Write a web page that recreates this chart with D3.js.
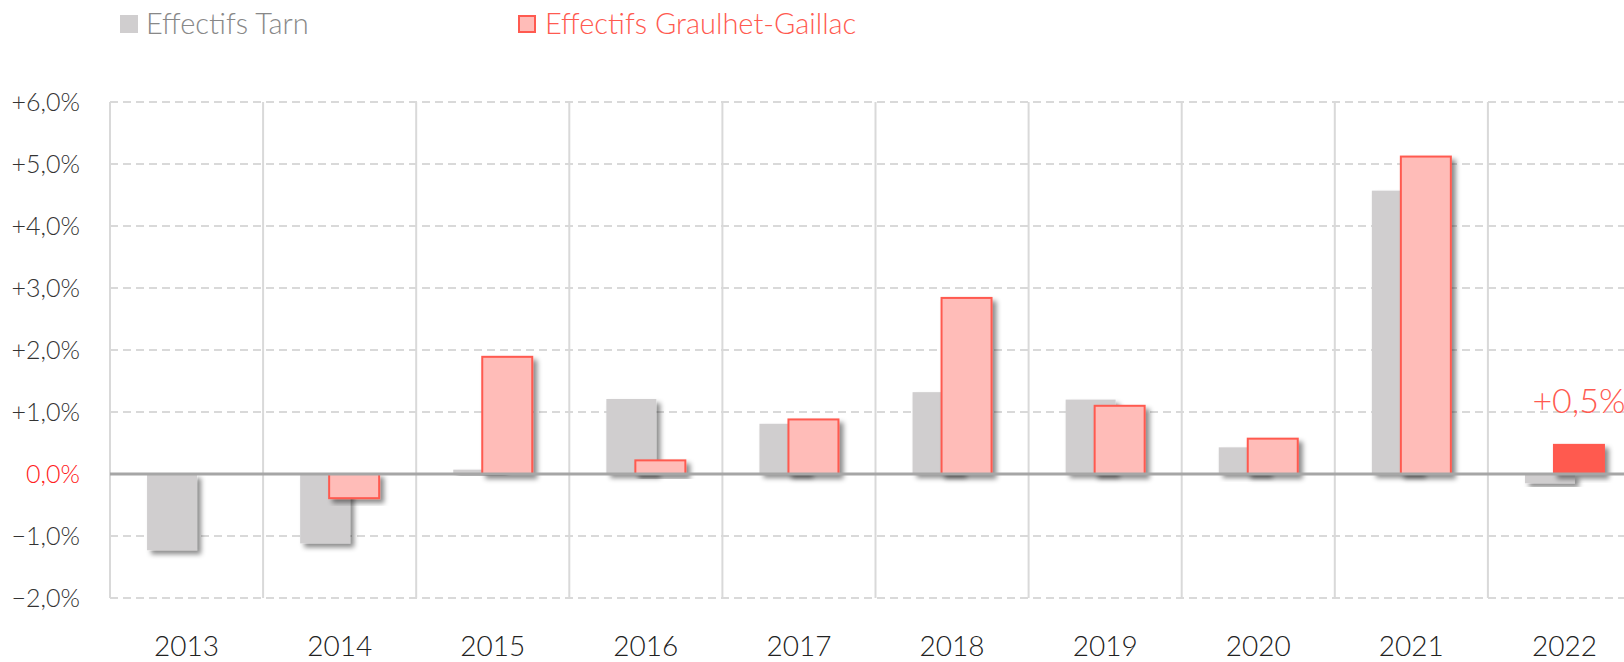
<!DOCTYPE html>
<html>
<head>
<meta charset="utf-8">
<script src="https://cdn.jsdelivr.net/npm/d3@7"></script>
<style>
  html, body { margin: 0; padding: 0; background: #fff; }
  svg { display: block; font-family: Lato, "Open Sans", sans-serif; font-weight: 300; }
</style>
</head>
<body>
<div id="canvas"></div>
<script>
// data
var years = ['2013','2014','2015','2016','2017','2018','2019','2020','2021','2022'];
var tarn = [-1.23, -1.12, 0.07, 1.21, 0.81, 1.32, 1.20, 0.43, 4.57, -0.15];
var graulhet = [0.0, -0.39, 1.89, 0.22, 0.88, 2.84, 1.10, 0.57, 5.12, 0.47];
var yTicks = [-2, -1, 0, 1, 2, 3, 4, 5, 6];
var seriesNames = ['Effectifs Tarn', 'Effectifs Graulhet-Gaillac'];
var highlightLabel = '+0,5%';

var W = 1624, H = 662;
var m = {t:102, l:110, b:64};

var svg = d3.select('#canvas').append('svg')
    .attr('width', W).attr('height', H);

var defs = svg.append('defs');
var f = defs.append('filter').attr('id','shadow')
    .attr('x','-20%').attr('y','-20%').attr('width','150%').attr('height','150%');
f.append('feDropShadow')
    .attr('dx',4).attr('dy',4).attr('stdDeviation',2.5)
    .attr('flood-color','#000').attr('flood-opacity',0.45);

var x = d3.scaleBand().domain(years).range([m.l, m.l + 153.1*years.length]);
var y = d3.scaleLinear().domain([-2, 6]).range([598, 102]);

var plotRight = x.range()[1];

//grid
svg.append('g').selectAll('line.h')
    .data(yTicks.filter(function(d){return d !== 0;}))
    .enter().append('line')
    .attr('x1', m.l).attr('x2', plotRight)
    .attr('y1', function(d){return y(d);}).attr('y2', function(d){return y(d);})
    .style('stroke','#d9d9d9').style('stroke-width',2).style('stroke-dasharray','8,5');

svg.append('g').selectAll('line.v')
    .data(years)
    .enter().append('line')
    .attr('x1', function(d){return x(d);}).attr('x2', function(d){return x(d);})
    .attr('y1', y(6)).attr('y2', y(-2))
    .style('stroke','#d9d9d9').style('stroke-width',2);

//y labels
svg.append('g').selectAll('text')
    .data(yTicks)
    .enter().append('text')
    .attr('x', 80).attr('y', function(d){return y(d);})
    .attr('dy','0.35em')
    .attr('text-anchor','end')
    .style('font-size','25px')
    .style('fill', function(d){return d === 0 ? '#ff2020' : '#333';})
    .text(function(d){return (d > 0 ? '+' : '') + d3.format('.1f')(d).replace('.', ',') + '%';});

//x labels
svg.append('g').selectAll('text')
    .data(years)
    .enter().append('text')
    .attr('x', function(d){return x(d) + x.bandwidth()/2;})
    .attr('y', 646).attr('dy','0.35em')
    .attr('text-anchor','middle')
    .style('font-size','28px').style('fill','#222')
    .text(function(d){return d;});

//bars
var barW = 50, off = 14.5;
function barY(v){ return Math.min(y(v), y(0)); }
function barH(v){ return Math.abs(y(v) - y(0)); }

svg.append('g').selectAll('rect')
    .data(years)
    .enter().append('rect')
    .attr('x', function(d){return x(d) + x.bandwidth()/2 - off - barW/2;})
    .attr('y', function(d,i){return barY(tarn[i]);})
    .attr('width', barW)
    .attr('height', function(d,i){return barH(tarn[i]);})
    .style('fill','#d0cecf')
    .attr('filter','url(#shadow)');

svg.append('g').selectAll('rect')
    .data(years)
    .enter().append('rect')
    .attr('x', function(d){return x(d) + x.bandwidth()/2 + off - barW/2;})
    .attr('y', function(d,i){return barY(graulhet[i]);})
    .attr('width', barW)
    .attr('height', function(d,i){return Math.max(barH(graulhet[i]), 0.5);})
    .style('fill', function(d,i){return i === years.length-1 ? '#ff5a50' : '#ffbcb8';})
    .style('stroke', function(d,i){return graulhet[i] === 0 ? 'none' : '#ff5a50';})
    .style('stroke-width',2)
    .attr('filter','url(#shadow)');

//zero line
svg.append('line')
    .attr('x1', m.l).attr('x2', plotRight)
    .attr('y1', y(0)).attr('y2', y(0))
    .style('stroke','#a6a6a6').style('stroke-width',3);

//highlight label
var last = years[years.length-1];
svg.append('text')
    .attr('x', x(last) + x.bandwidth()/2 + off)
    .attr('y', 413)
    .attr('text-anchor','middle')
    .style('font-size','34px').style('fill','#ff5a50')
    .text(highlightLabel);

//legend
var leg = svg.append('g');
leg.append('rect').attr('x',120).attr('y',15).attr('width',18).attr('height',18)
    .style('fill','#d0cecf');
leg.append('text').attr('x',146).attr('y',24).attr('dy','0.35em')
    .style('font-size','29px').style('fill','#888')
    .text(seriesNames[0]);
leg.append('rect').attr('x',519).attr('y',16).attr('width',16).attr('height',16)
    .style('fill','#ffbcb8').style('stroke','#ff5a50').style('stroke-width',2);
leg.append('text').attr('x',545).attr('y',24).attr('dy','0.35em')
    .style('font-size','29px').style('fill','#ff5a50')
    .text(seriesNames[1]);
</script>
</body>
</html>
